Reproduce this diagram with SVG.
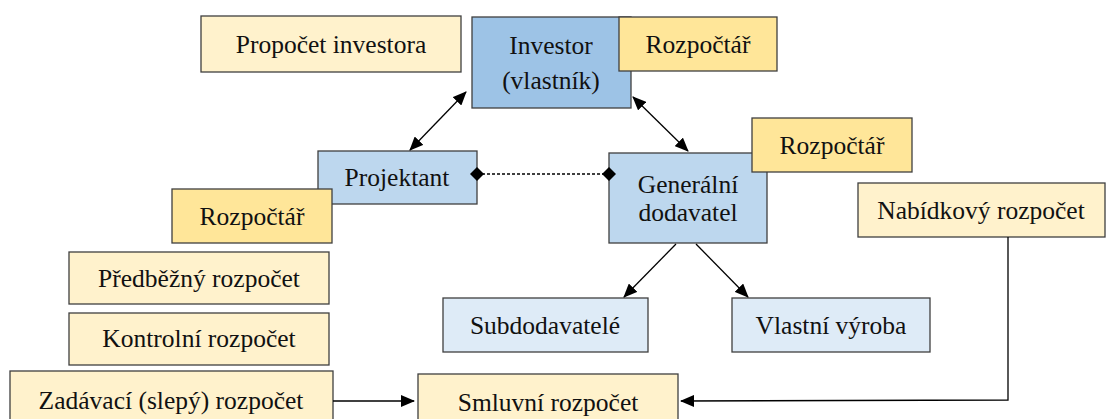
<svg xmlns="http://www.w3.org/2000/svg" width="1106" height="419" viewBox="0 0 1106 419" font-family="Liberation Serif, Tinos, Times New Roman, Times, serif">
  <style>
    rect { stroke: #3f3f3f; stroke-width: 1.3; }
    .inv { fill: #9dc3e6; }
    .mid { fill: #bdd7ee; }
    .low { fill: #deebf7; }
    .role { fill: #ffe699; }
    .bud { fill: #fff2cc; }
    text { font-size: 25.5px; fill: #111; text-anchor: middle; }
    .conn { stroke: #000; stroke-width: 1.3; fill: none; }
  </style>
  <defs>
    <marker id="arrow" viewBox="0 0 14 12" refX="13" refY="6" markerWidth="14" markerHeight="12" markerUnits="userSpaceOnUse" orient="auto-start-reverse">
      <path d="M0,0 L14,6 L0,12 Z" fill="#000"/>
    </marker>
    <marker id="diamond" viewBox="0 0 14 14" refX="7" refY="7" markerWidth="14" markerHeight="14" markerUnits="userSpaceOnUse" orient="auto">
      <path d="M0,7 L7,0 L14,7 L7,14 Z" fill="#000"/>
    </marker>
  </defs>

  <g id="propocet-investora">
    <rect class="bud" x="201" y="16" width="260" height="56"/>
    <text x="331" y="53">Propočet investora</text>
  </g>

  <g id="investor">
    <rect class="inv" x="472" y="17" width="159" height="91"/>
    <text x="551" y="54">Investor</text>
    <text x="551" y="89">(vlastník)</text>
  </g>

  <g id="rozpoctar-investor">
    <rect class="role" x="619" y="17" width="158" height="54"/>
    <text x="698" y="53">Rozpočtář</text>
  </g>

  <g id="projektant">
    <rect class="mid" x="318" y="151" width="159" height="53"/>
    <text x="397" y="186">Projektant</text>
  </g>

  <g id="rozpoctar-projektant">
    <rect class="role" x="172" y="189" width="160" height="54"/>
    <text x="252" y="225">Rozpočtář</text>
  </g>

  <g id="generalni-dodavatel">
    <rect class="mid" x="609" y="153" width="158" height="90"/>
    <text x="688" y="193">Generální</text>
    <text x="688" y="221">dodavatel</text>
  </g>

  <g id="rozpoctar-dodavatel">
    <rect class="role" x="752" y="118" width="160" height="54"/>
    <text x="832" y="154">Rozpočtář</text>
  </g>

  <g id="nabidkovy-rozpocet">
    <rect class="bud" x="858" y="183" width="247" height="54"/>
    <text x="981" y="219">Nabídkový rozpočet</text>
  </g>

  <g id="predbezny-rozpocet">
    <rect class="bud" x="69" y="252" width="260" height="52"/>
    <text x="199" y="287">Předběžný rozpočet</text>
  </g>

  <g id="kontrolni-rozpocet">
    <rect class="bud" x="69" y="313" width="260" height="52"/>
    <text x="199" y="347">Kontrolní rozpočet</text>
  </g>

  <g id="subdodavatele">
    <rect class="low" x="443" y="298" width="205" height="54"/>
    <text x="545" y="334">Subdodavatelé</text>
  </g>

  <g id="vlastni-vyroba">
    <rect class="low" x="732" y="298" width="198" height="54"/>
    <text x="831" y="334">Vlastní výroba</text>
  </g>

  <g id="zadavaci-rozpocet">
    <rect class="bud" x="10" y="371" width="323" height="60"/>
    <text x="171" y="409">Zadávací (slepý) rozpočet</text>
  </g>

  <g id="smluvni-rozpocet">
    <rect class="bud" x="418" y="374" width="260" height="60"/>
    <text x="548" y="411">Smluvní rozpočet</text>
  </g>

  <!-- connectors, drawn last so the diamonds sit over the box edges -->
  <g id="connectors">
    <line class="conn" x1="410" y1="150" x2="466" y2="92" marker-start="url(#arrow)" marker-end="url(#arrow)"/>
    <line class="conn" x1="633" y1="97" x2="688" y2="151" marker-start="url(#arrow)" marker-end="url(#arrow)"/>
    <line class="conn" x1="477" y1="174" x2="609" y2="174" stroke-dasharray="3,2" marker-start="url(#diamond)" marker-end="url(#diamond)"/>
    <line class="conn" x1="676" y1="244" x2="624" y2="297" marker-end="url(#arrow)"/>
    <line class="conn" x1="696" y1="244" x2="748" y2="297" marker-end="url(#arrow)"/>
    <line class="conn" x1="333" y1="401" x2="414" y2="401" marker-end="url(#arrow)"/>
    <polyline class="conn" points="1008,237 1008,400 681,401" marker-end="url(#arrow)"/>
  </g>
</svg>
